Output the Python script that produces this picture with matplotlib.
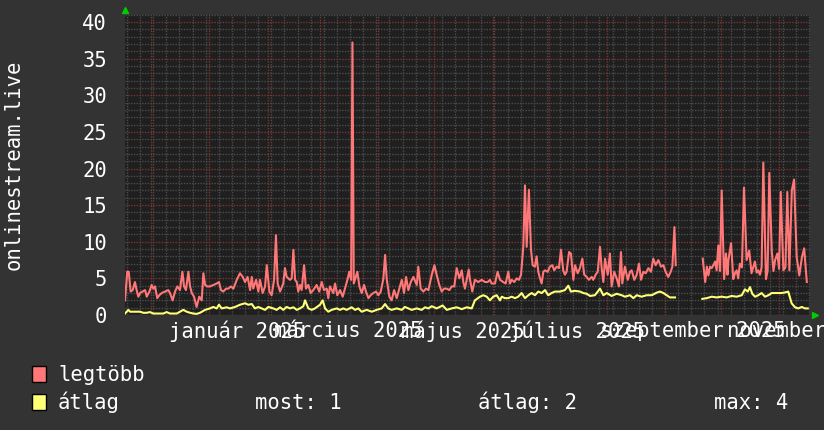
import numpy as np
import matplotlib
matplotlib.use('Agg')
import matplotlib.pyplot as plt
import matplotlib.dates as mdates
from matplotlib.ticker import MultipleLocator, FuncFormatter
from matplotlib.patches import Rectangle
from datetime import datetime

# kezdo datum, a napok ehhez kepest vannak megadva
kezdet = datetime(2024, 11, 17)
napok_szama = 365.3

honapok = ['január', 'február', 'március', 'április', 'május', 'június',
           'július', 'augusztus', 'szeptember', 'október', 'november', 'december']

# legtobb (max) - nap, ertek
max_nap = [0.0, 1.2, 2.0, 3.0, 4.1, 5.3, 6.2, 7.1, 8.0, 9.4, 10.7, 11.6, 13.0, 14.2, 15.1, 16.0,
           17.2, 18.3, 19.6, 21.3, 23.1, 24.0, 25.4, 26.7, 27.9, 29.3, 30.6, 31.5, 32.5, 33.8,
           34.7, 35.6, 36.8, 38.2, 39.6, 40.9, 41.8, 42.7, 43.9, 45.3, 47.1, 48.9, 50.1, 51.2,
           52.4, 53.9, 55.1, 56.5, 57.8, 59.6, 61.3, 62.8, 64.0, 65.4, 66.7, 67.6, 68.4, 69.9,
           71.1, 72.0, 73.4, 74.7, 75.6, 77.0, 78.2, 79.5, 80.5, 81.4, 82.7, 84.4, 85.3, 86.2,
           88.0, 88.9, 89.8, 90.7, 91.6, 92.4, 93.3, 94.2, 95.5, 96.5, 97.8, 99.0, 100.4, 102.2,
           103.6, 104.9, 106.1, 107.6, 108.4, 109.3, 111.1, 112.0, 113.2, 114.7, 116.1, 117.3,
           118.6, 119.6, 120.6, 121.3, 122.0, 123.9, 125.0, 126.2, 127.5, 128.5, 129.8, 131.0,
           132.4, 133.9, 135.1, 136.4, 137.8, 138.7, 139.6, 141.0, 142.2, 143.5, 144.9, 146.3,
           147.6, 148.8, 149.9, 151.1, 152.4, 153.8, 155.6, 156.4, 157.7, 159.1, 160.5, 161.8,
           163.6, 165.0, 166.2, 167.6, 168.9, 170.1, 171.6, 173.0, 174.2, 175.6, 176.9, 178.3,
           179.6, 180.4, 181.3, 182.4, 183.3, 184.0, 185.2, 186.6, 188.4, 190.2, 192.0, 193.4,
           194.6, 195.5, 197.3, 198.7, 200.0, 201.7, 203.0, 204.4, 205.3, 206.2, 207.6, 208.9,
           210.1, 211.2, 212.4, 213.3, 214.2, 215.4, 216.5, 217.4, 218.6, 219.5, 220.4, 221.3,
           222.2, 223.1, 224.0, 225.4, 226.6, 227.9, 228.9, 230.2, 231.4, 232.5, 233.7, 234.6,
           235.5, 236.8, 237.8, 239.1, 240.0, 241.4, 242.6, 243.9, 244.9, 246.2, 247.4, 248.9,
           249.7, 251.0, 252.1, 253.3, 254.2, 255.1, 256.0, 257.4, 258.6, 259.5, 260.9, 262.2,
           263.4, 264.5, 265.2, 266.6, 268.1, 269.3, 270.2, 271.6, 272.9, 274.1, 275.2, 276.4,
           277.7, 279.1, 280.5, 281.7, 283.0, 284.4, 285.8, 287.1, 288.3, 289.7, 291.0, 291.9,
           293.0, 293.7, 301.0,
           308.1, 309.4, 310.3, 311.1, 312.0, 312.9, 313.8, 314.7, 315.5, 316.4, 317.3, 318.2,
           319.5, 320.5, 321.3, 321.8, 323.2, 324.4, 325.3, 326.2, 327.0, 327.9, 329.0, 330.1,
           331.5, 332.9, 334.1, 335.0, 335.9, 336.8, 337.7, 338.6, 339.5, 340.4, 341.8, 342.7,
           343.6, 344.9, 345.8, 346.7, 347.9, 348.8, 349.7, 351.1, 352.2, 353.2, 354.3, 355.6,
           356.8, 358.2, 359.6, 361.0, 362.2, 363.6]
max_ertek = [2.0, 5.9, 5.9, 3.2, 3.4, 4.5, 3.4, 2.5, 3.0, 3.2, 3.4, 2.5, 3.2, 4.1, 3.6, 3.9,
             2.3, 2.7, 3.0, 3.2, 3.4, 3.0, 2.0, 3.2, 3.9, 3.4, 5.9, 3.9, 3.4, 5.9,
             3.9, 3.0, 2.5, 1.1, 2.5, 2.0, 5.7, 4.1, 3.9, 3.9, 4.1, 4.3, 4.5, 3.4,
             3.2, 3.6, 3.6, 3.9, 3.6, 4.8, 5.7, 5.2, 4.5, 5.2, 3.4, 5.2, 3.6, 4.8,
             3.2, 4.8, 3.0, 3.9, 6.8, 3.2, 2.7, 4.8, 10.9, 4.3, 3.2, 4.3, 6.4, 5.2,
             4.8, 5.0, 8.9, 4.8, 4.5, 3.2, 4.1, 3.4, 6.8, 3.6, 4.1, 3.0, 3.4, 4.1,
             3.2, 4.5, 3.4, 3.6, 2.3, 3.9, 3.0, 4.3, 2.7, 3.4, 2.5, 3.6,
             4.8, 5.9, 4.8, 37.2, 4.3, 5.9, 3.9, 3.0, 4.1, 3.2, 2.3, 2.7,
             3.0, 3.2, 2.7, 3.2, 5.0, 8.2, 4.8, 2.5, 2.0, 3.4, 2.3, 3.6,
             4.8, 3.0, 5.2, 3.4, 4.5, 5.2, 4.1, 6.6, 3.6, 3.2, 3.6, 3.4,
             5.5, 6.8, 5.5, 4.1, 3.2, 3.6, 3.6, 3.4, 3.9, 3.9, 6.4, 5.0,
             6.1, 4.5, 3.6, 5.0, 6.2, 4.8, 3.2, 4.8, 4.5, 4.8, 4.5, 4.5,
             4.8, 4.3, 4.3, 5.9, 4.8, 4.5, 4.3, 5.9, 4.3, 4.8, 4.5, 5.0,
             4.8, 5.5, 9.3, 17.7, 9.3, 17.1, 8.9, 6.8, 6.6, 8.0, 5.9, 5.0,
             4.3, 5.9, 6.1, 5.9, 6.6, 6.8, 6.1, 6.6, 6.4, 8.9, 6.1, 5.5,
             5.9, 8.6, 8.4, 4.8, 6.8, 5.7, 6.4, 7.7, 5.5, 5.2, 4.8, 5.2,
             4.8, 5.5, 5.9, 9.3, 6.4, 4.5, 7.7, 5.5, 8.4, 3.9, 5.9, 5.0,
             3.9, 8.6, 4.3, 6.6, 4.8, 5.9, 6.1, 4.8, 5.5, 7.0, 4.8, 5.9,
             5.7, 6.4, 5.9, 7.7, 6.8, 7.5, 6.6, 6.8, 5.9, 5.2, 5.9, 6.6,
             12.0, 6.8, np.nan,
             7.7, 4.5, 6.6, 5.4, 6.6, 6.4, 6.8, 7.3, 6.1, 9.5, 6.0, 17.0,
             4.9, 8.4, 5.5, 7.5, 9.8, 4.9, 5.7, 6.1, 5.0, 7.0, 6.5, 17.4,
             7.5, 8.8, 5.7, 6.5, 7.3, 5.8, 6.1, 5.5, 6.5, 20.8, 4.9, 6.0,
             19.4, 8.8, 6.0, 7.5, 8.4, 6.3, 16.8, 6.1, 6.5, 16.8, 6.1, 17.0,
             18.5, 7.9, 5.4, 7.9, 9.1, 4.5]

# atlag - nap, ertek
atl_nap = [0.0, 1.8, 2.7, 5.3, 8.0, 9.8, 11.6, 13.3, 15.1, 17.8, 20.4, 22.2, 24.0, 25.8, 27.6,
           29.3, 31.1, 32.9, 34.7, 36.4, 38.2, 40.0, 42.7, 45.3, 47.1, 48.9, 50.1, 51.6, 54.2,
           56.0, 58.7, 61.3, 64.0, 65.8, 67.6, 69.3, 71.1, 72.9, 74.7, 76.4, 79.1, 80.9, 82.7,
           84.4, 86.2, 88.0, 89.8, 91.6, 93.3, 95.1, 96.0, 97.8, 99.6, 101.3, 104.0, 105.4,
           106.7, 108.4, 110.2, 112.9, 114.7, 116.4, 118.2, 120.9, 122.7, 124.4, 126.2, 128.9,
           131.6, 134.2, 136.9, 138.7, 140.4, 142.2, 144.9, 147.6, 149.3, 151.1, 152.9, 155.6,
           158.2, 160.0, 161.8, 163.6, 166.2, 169.4, 171.6, 174.2, 176.9, 179.6, 182.2,
           184.9, 186.6, 189.3, 191.1, 192.9, 194.6, 196.4, 198.2, 200.0, 200.9, 202.6, 204.4,
           206.2, 208.0, 209.7, 211.5, 213.3, 215.1, 216.9, 218.6, 220.4, 222.2, 224.0, 225.7,
           227.5, 229.3, 232.0, 234.6, 236.4, 237.8, 240.0, 242.6, 244.4, 246.2, 248.0, 250.6,
           253.3, 255.1, 256.9, 259.5, 262.2, 264.9, 266.6, 269.3, 271.1, 272.9, 275.5, 278.2,
           280.9, 283.5, 285.3, 287.1, 288.9, 290.6, 293.3, 301.0,
           307.9, 310.2, 312.9, 315.5, 318.2, 320.9, 323.5, 326.2, 328.9, 330.6, 332.1, 333.3,
           334.5, 336.0, 337.7, 339.5, 341.3, 343.1, 344.9, 347.5, 350.2, 352.3, 353.7, 355.5,
           357.3, 359.1, 360.9, 362.6, 364.1]
atl_ertek = [0.2, 0.7, 0.45, 0.45, 0.45, 0.3, 0.3, 0.4, 0.2, 0.2, 0.2, 0.4, 0.2, 0.2, 0.2,
             0.45, 0.7, 0.45, 0.3, 0.2, 0.15, 0.3, 0.7, 0.9, 1.1, 0.9, 1.4, 0.9, 1.05,
             0.9, 1.1, 1.4, 1.6, 1.4, 1.5, 0.9, 1.1, 0.9, 0.7, 1.1, 0.9, 0.7, 1.05,
             0.7, 1.1, 0.9, 1.05, 0.7, 0.9, 1.2, 2.0, 0.9, 0.7, 0.9, 1.4, 2.0,
             0.9, 0.45, 0.7, 0.9, 0.7, 0.9, 0.7, 1.05, 0.7, 0.9, 0.45, 0.7,
             0.45, 0.7, 0.9, 1.5, 0.9, 0.7, 0.9, 0.7, 1.1, 0.9, 0.7, 0.9,
             0.7, 1.05, 0.9, 1.2, 0.9, 1.3, 0.7, 0.9, 1.05, 0.8, 1.05,
             0.9, 2.0, 2.5, 2.7, 2.5, 2.0, 2.5, 2.7, 2.0, 2.5, 2.3, 2.3,
             2.5, 2.3, 2.5, 3.0, 2.3, 2.7, 3.0, 2.7, 3.2, 3.0, 3.4, 2.7,
             3.0, 3.2, 3.2, 3.4, 4.0, 3.2, 3.3, 3.2, 3.0, 2.9, 2.6, 2.7,
             3.6, 2.7, 3.0, 2.6, 2.9, 2.7, 2.5, 2.7, 2.3, 2.7, 2.5, 2.7,
             2.7, 3.05, 3.2, 3.0, 2.7, 2.4, 2.4, np.nan,
             2.2, 2.3, 2.5, 2.4, 2.5, 2.4, 2.6, 2.5, 2.7, 3.5, 3.2, 3.8,
             2.9, 2.5, 2.7, 3.0, 2.5, 2.7, 3.0, 3.0, 3.0, 3.1, 3.2, 1.6,
             1.05, 0.9, 1.1, 0.9, 0.9]

# szinek
hatter = '#333333'
rajzlap = '#1f1f1f'
piros = '#ff7777'
sarga = '#ffff77'
betu = 'DejaVu Sans Mono'
meret = 14.8

t0 = mdates.date2num(kezdet)
t1 = t0 + napok_szama
x_max = t0 + np.array(max_nap)
x_atl = t0 + np.array(atl_nap)

fig = plt.figure(figsize=(8.24, 4.30), dpi=100, facecolor=hatter)
ax = fig.add_axes([125/824, 115/430, 685/824, 300.3/430])
ax.set_facecolor(rajzlap)

ax.set_xlim(t0, t1)
ax.set_ylim(0, 41)

# racs
ax.yaxis.set_major_locator(MultipleLocator(5))
ax.yaxis.set_minor_locator(MultipleLocator(1))
ax.xaxis.set_minor_locator(mdates.WeekdayLocator(byweekday=mdates.MO))
ax.xaxis.set_major_locator(mdates.MonthLocator(bymonth=[1, 3, 5, 7, 9, 11], bymonthday=16))
ax.xaxis.set_major_formatter(FuncFormatter(
    lambda v, p: honapok[mdates.num2date(v).month - 1] + ' ' + str(mdates.num2date(v).year)))

ax.grid(which='minor', color='#4c4c4c', linestyle=(0, (1, 1)), linewidth=1, zorder=1)
ax.grid(which='major', axis='y', color='#7a3434', linestyle=(0, (1, 1)), linewidth=1, zorder=2)
ax.grid(which='major', axis='x', visible=False)
honap_eleje = mdates.MonthLocator().tick_values(mdates.num2date(t0), mdates.num2date(t1))
for d in honap_eleje:
    if t0 < d < t1:
        ax.axvline(d, color='#7a3434', linestyle=(0, (1, 1)), linewidth=1, zorder=2)
ax.set_axisbelow(True)

ax.plot(x_max, max_ertek, color=piros, linewidth=1.5, zorder=4)
ax.plot(x_atl, atl_ertek, color=sarga, linewidth=1.5, zorder=5)

for s in ax.spines.values():
    s.set_visible(False)
ax.tick_params(which='both', length=0, colors='white', labelsize=meret)
ax.tick_params(axis='y', pad=13)
ax.tick_params(axis='x', pad=4)
for lab in ax.get_xticklabels() + ax.get_yticklabels():
    lab.set_fontfamily(betu)

# zold nyilak
ax.plot([0], [1.016], marker='^', color='#00cc00', markersize=5, transform=ax.transAxes, clip_on=False)
ax.plot([1.008], [0], marker='>', color='#00cc00', markersize=5, transform=ax.transAxes, clip_on=False)

fig.text(14/824, 1 - 164.5/430, 'onlinestream.live', rotation=90, ha='center', va='center',
         color='white', fontsize=meret, fontfamily=betu)

# jelmagyarazat
fig.patches.append(Rectangle((32/824, 1 - 382/430), 14/824, 16/430, transform=fig.transFigure,
                             facecolor=piros, edgecolor='black', linewidth=1))
fig.patches.append(Rectangle((32/824, 1 - 410/430), 14/824, 16/430, transform=fig.transFigure,
                             facecolor=sarga, edgecolor='black', linewidth=1))
fig.text(58/824, 1 - 381/430, 'legtöbb', color='white', fontsize=meret, fontfamily=betu, va='baseline')
fig.text(58/824, 1 - 409/430, 'átlag', color='white', fontsize=meret, fontfamily=betu, va='baseline')
fig.text(255/824, 1 - 409/430, 'most: 1', color='white', fontsize=meret, fontfamily=betu, va='baseline')
fig.text(478/824, 1 - 409/430, 'átlag: 2', color='white', fontsize=meret, fontfamily=betu, va='baseline')
fig.text(714/824, 1 - 409/430, 'max: 4', color='white', fontsize=meret, fontfamily=betu, va='baseline')

fig.savefig('out.png', dpi=100, facecolor=hatter)
